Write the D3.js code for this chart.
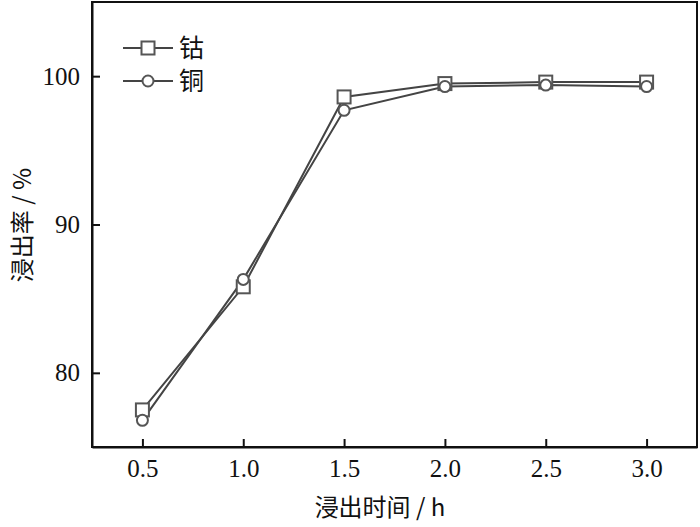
<!DOCTYPE html>
<html><head><meta charset="utf-8">
<script src="https://cdn.jsdelivr.net/npm/d3@7"></script>
<style>body{margin:0;background:#fff}</style>
</head><body>
<svg id="c" width="700" height="527"></svg>
<script>
const times = [0.5, 1.0, 1.5, 2.0, 2.5, 3.0];
const cobalt = [77.5, 85.8, 98.6, 99.5, 99.6, 99.6];
const copper = [76.8, 86.3, 97.7, 99.3, 99.4, 99.3];
const seriesNames = ["钴", "铜"];
const xTicks = [0.5, 1.0, 1.5, 2.0, 2.5, 3.0];
const yTicks = [80, 90, 100];

const svg = d3.select("#c");
const m = {l: 92, r: 3, t: 2, b: 80};
const W = 700, H = 527;
const x = d3.scaleLinear().domain([0.25, 3.25]).range([m.l, W - m.r]);
const y = d3.scaleLinear().domain([75, 105]).range([H - m.b, m.t]);
const numFont = "'Liberation Serif','Times New Roman',serif";
const cjkFont = "'Noto Sans CJK SC','Liberation Serif',serif";

// frame
svg.append("rect").attr("x", m.l).attr("y", m.t)
  .attr("width", W - m.r - m.l).attr("height", H - m.b - m.t)
  .attr("fill", "none").attr("stroke", "#111").attr("stroke-width", 2);

const xa = svg.append("g").attr("transform", `translate(0,${H - m.b})`)
  .call(d3.axisBottom(x).tickValues(xTicks).tickFormat(d3.format(".1f")).tickSizeInner(-8).tickSizeOuter(0).tickPadding(12));
const ya = svg.append("g").attr("transform", `translate(${m.l},0)`)
  .call(d3.axisLeft(y).tickValues(yTicks).tickFormat(d3.format("d")).tickSizeInner(-8).tickSizeOuter(0).tickPadding(12));
[xa, ya].forEach(a => {
  a.select(".domain").attr("stroke", "#111").attr("stroke-width", 2);
  a.selectAll(".tick line").attr("stroke", "#111").attr("stroke-width", 2);
  a.selectAll(".tick text").attr("font-family", numFont).attr("font-size", 25).attr("fill", "#111");
});

const line = d3.line().x((d, i) => x(times[i])).y(d => y(d));
const lineColor = "#444", markColor = "#555";
[cobalt, copper].forEach(s => {
  svg.append("path").datum(s).attr("d", line).attr("fill", "none")
    .attr("stroke", lineColor).attr("stroke-width", 2);
});
// markers
svg.selectAll(".sq").data(cobalt).enter().append("rect")
  .attr("x", (d, i) => x(times[i]) - 6.5).attr("y", d => y(d) - 6.5)
  .attr("width", 13).attr("height", 13)
  .attr("fill", "#fff").attr("stroke", markColor).attr("stroke-width", 2);
svg.selectAll(".ci").data(copper).enter().append("circle")
  .attr("cx", (d, i) => x(times[i])).attr("cy", d => y(d)).attr("r", 5.5)
  .attr("fill", "#fff").attr("stroke", markColor).attr("stroke-width", 2);

// legend
const lg = svg.append("g");
const ly = [48, 81];
ly.forEach((yy, k) => {
  lg.append("line").attr("x1", 123).attr("x2", 173).attr("y1", yy).attr("y2", yy)
    .attr("stroke", lineColor).attr("stroke-width", 2);
  if (k === 0) lg.append("rect").attr("x", 141.5).attr("y", yy - 6.5).attr("width", 13).attr("height", 13)
    .attr("fill", "#fff").attr("stroke", markColor).attr("stroke-width", 2);
  else lg.append("circle").attr("cx", 148).attr("cy", yy).attr("r", 5.5)
    .attr("fill", "#fff").attr("stroke", markColor).attr("stroke-width", 2);
  lg.append("text").attr("x", 179).attr("y", yy + 9).text(seriesNames[k])
    .attr("font-family", cjkFont).attr("font-size", 25).attr("fill", "#111");
});

// axis titles
svg.append("text").attr("x", 380).attr("y", 516).attr("text-anchor", "middle")
  .attr("font-family", cjkFont).attr("font-size", 24).attr("fill", "#111")
  .text("浸出时间 / h");
svg.append("text").attr("transform", "translate(31,225) rotate(-90)").attr("text-anchor", "middle")
  .attr("font-family", cjkFont).attr("font-size", 24).attr("fill", "#111")
  .text("浸出率 / %");
</script>
</body></html>
